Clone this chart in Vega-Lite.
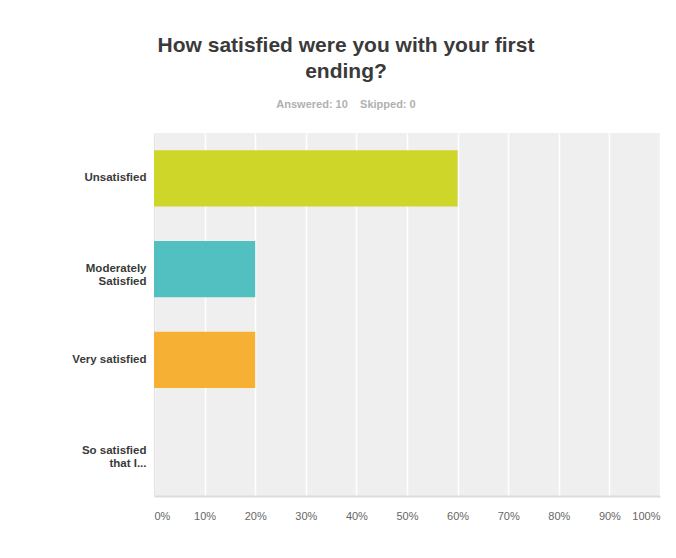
{
  "$schema": "https://vega.github.io/schema/vega-lite/v6.json",
  "autosize": "none",
  "width": 506,
  "height": 363,
  "padding": {"left": 154, "top": 133, "right": 16, "bottom": 62},
  "background": "white",
  "title": {
    "text": ["How satisfied were you with your first", "ending?"],
    "subtitle": "Answered: 10\u00a0\u00a0\u00a0\u00a0Skipped: 0",
    "anchor": "middle",
    "frame": "group",
    "dx": -61,
    "font": "Liberation Sans",
    "fontSize": 21,
    "fontWeight": "bold",
    "color": "#3a3a3a",
    "lineHeight": 26,
    "subtitleFont": "Liberation Sans",
    "subtitleFontSize": 11,
    "subtitleFontWeight": "bold",
    "subtitleColor": "#b0b0b0",
    "subtitlePadding": 17,
    "offset": 23
  },
  "data": {
    "values": [
      {"answer": "Unsatisfied", "share": 0.6},
      {"answer": "Moderately Satisfied", "share": 0.2},
      {"answer": "Very satisfied", "share": 0.2},
      {"answer": "So satisfied that I...", "share": 0.0}
    ]
  },
  "mark": {"type": "bar"},
  "encoding": {
    "y": {
      "field": "answer",
      "type": "nominal",
      "sort": null,
      "scale": {"paddingInner": 0.38, "paddingOuter": 0.19},
      "axis": {
        "title": null,
        "ticks": false,
        "domain": true,
        "domainColor": "#e2e2e2",
        "domainWidth": 1,
        "labelFont": "Liberation Sans",
        "labelFontSize": 11.5,
        "labelFontWeight": "bold",
        "labelColor": "#3a3a3a",
        "labelPadding": 8,
        "labelLineHeight": 13,
        "labelExpr": "datum.label == 'Moderately Satisfied' ? ['Moderately', 'Satisfied'] : datum.label == 'So satisfied that I...' ? ['So satisfied', 'that I...'] : datum.label"
      }
    },
    "x": {
      "field": "share",
      "type": "quantitative",
      "scale": {"domain": [0, 1], "nice": false},
      "axis": {
        "title": null,
        "format": "%",
        "values": [0, 0.1, 0.2, 0.3, 0.4, 0.5, 0.6, 0.7, 0.8, 0.9, 1],
        "ticks": false,
        "labelFlush": true,
        "labelFont": "Liberation Sans",
        "labelFontSize": 11,
        "labelColor": "#666666",
        "labelPadding": 14,
        "domainColor": "#dcdcdc",
        "domainWidth": 2,
        "grid": true,
        "gridColor": "#ffffff",
        "gridWidth": 1.5
      }
    },
    "color": {
      "field": "answer",
      "type": "nominal",
      "legend": null,
      "scale": {
        "domain": ["Unsatisfied", "Moderately Satisfied", "Very satisfied", "So satisfied that I..."],
        "range": ["#cfd62a", "#52c0c0", "#f6b033", "#9b59b6"]
      }
    }
  },
  "config": {
    "view": {"fill": "#efefef", "stroke": null}
  }
}
